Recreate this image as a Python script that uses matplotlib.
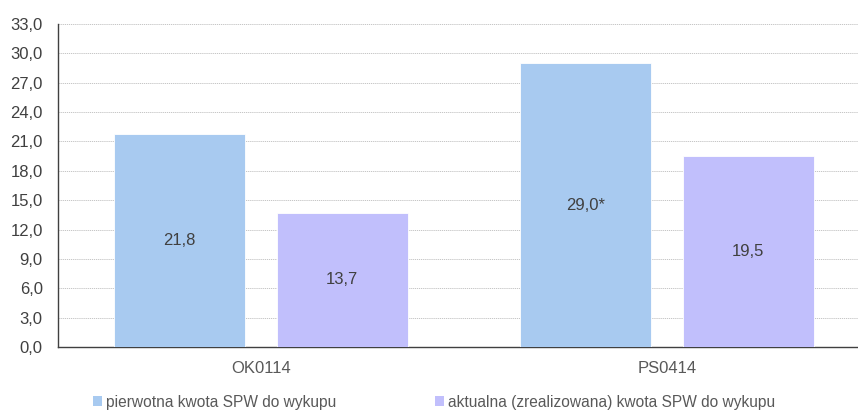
import matplotlib
matplotlib.use("Agg")
import matplotlib.pyplot as plt
from matplotlib.ticker import MultipleLocator, FuncFormatter
from matplotlib.patches import Patch
import numpy as np

categories = ["OK0114", "PS0414"]
pierwotna = [21.8, 29.0]
aktualna = [13.7, 19.5]
pierwotna_labels = ["21,8", "29,0*"]
aktualna_labels = ["13,7", "19,5"]
series_names = ["pierwotna kwota SPW do wykupu",
                "aktualna (zrealizowana) kwota SPW do wykupu"]

plt.rcParams["font.family"] = ["Liberation Sans", "DejaVu Sans"]
text_color = "#404040"
label_color = "#595959"
c_blue = "#A8CAF0"
c_purple = "#C1BFFC"

W, H = 858, 413
fig = plt.figure(figsize=(W / 100, H / 100), dpi=100)
left, right = 58 / W, 870 / W
bottom, top = 1 - 347 / H, 1 - 24 / H
ax = fig.add_axes([left, bottom, right - left, top - bottom])

x = np.arange(len(categories))
bw = 0.323
off = 0.2
b1 = ax.bar(x - off, pierwotna, bw, color=c_blue, edgecolor="white", linewidth=0.6, zorder=3)
b2 = ax.bar(x + off, aktualna, bw, color=c_purple, edgecolor="white", linewidth=0.6, zorder=3)

for bars, labels in ((b1, pierwotna_labels), (b2, aktualna_labels)):
    for rect, lab in zip(bars, labels):
        ax.text(rect.get_x() + rect.get_width() / 2, rect.get_height() / 2, lab,
                ha="center", va="center", fontsize=12, color=text_color, zorder=4)

ax.set_xlim(-0.5, 1.5)
ax.set_ylim(0, 33)
ax.yaxis.set_major_locator(MultipleLocator(3))
ax.yaxis.set_major_formatter(FuncFormatter(lambda v, p: f"{v:.1f}".replace(".", ",")))
ax.set_xticks(x)
ax.set_xticklabels(categories)
ax.tick_params(axis="both", length=0, labelsize=12, colors=text_color)
ax.tick_params(axis="x", colors=label_color, pad=10)
ax.tick_params(axis="y", pad=11)

ax.grid(axis="y", color="#BDBDBD", linestyle=(0, (1.5, 1)), linewidth=0.6, zorder=0)
for s in ("top", "right"):
    ax.spines[s].set_visible(False)
for s in ("left", "bottom"):
    ax.spines[s].set_color("#404040")
    ax.spines[s].set_linewidth(1.0)

handles = [Patch(facecolor=c_blue), Patch(facecolor=c_purple)]
fig.legend(handles, series_names, loc="center", bbox_to_anchor=(434 / W, 1 - 402 / H),
           ncol=2, frameon=False, fontsize=11.2, handlelength=0.55, handleheight=0.55,
           handletextpad=0.25, columnspacing=6.4, labelcolor=label_color)

fig.savefig("out.png", dpi=100)
